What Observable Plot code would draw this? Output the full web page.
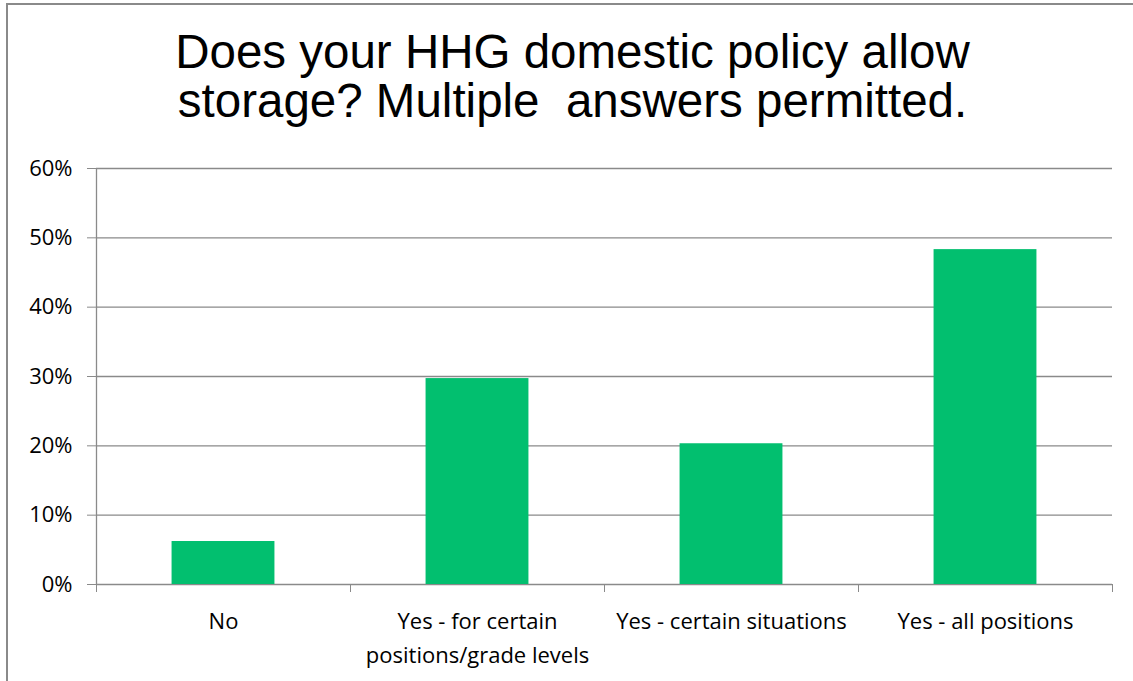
<!DOCTYPE html>
<html>
<head>
<meta charset="utf-8">
<script src="https://cdn.jsdelivr.net/npm/d3@7"></script>
<script src="https://cdn.jsdelivr.net/npm/@observablehq/plot@0.6"></script>
<style>
  html, body { margin: 0; padding: 0; background: #fff; }
  #wrap { position: relative; width: 1133px; height: 681px; overflow: hidden; background: #fff; }
  #frame { position: absolute; left: 6px; top: 3px; width: 1200px; height: 800px; border-left: 2px solid #8a8a8a; border-top: 2px solid #8a8a8a; }
  #title { position: absolute; left: 12px; top: 27px; width: 1121px; text-align: center; font-family: "Liberation Sans", Arial, sans-serif; font-size: 47.5px; line-height: 49px; color: #000; white-space: nowrap; }
  #chart { position: absolute; left: 0; top: 150px; }
  #chart svg { background: transparent !important; }
</style>
</head>
<body>
<div id="wrap">
  <div id="frame"></div>
  <div id="title">Does your HHG domestic policy allow<br>storage? Multiple&nbsp; answers permitted.</div>
  <div id="chart"></div>
</div>
<script>
const categories = ["No", "Yes - for certain\npositions/grade levels", "Yes - certain situations", "Yes - all positions"];
const values = [0.062, 0.297, 0.203, 0.483];
const yTicks = [0, 0.1, 0.2, 0.3, 0.4, 0.5, 0.6];

const data = categories.map((c, i) => ({cat: c, idx: i, value: values[i]}));
const halfBar = 0.2025;
const font = "'Open Sans', Lato, sans-serif";

const plot = Plot.plot({
  width: 1133,
  height: 531,
  marginTop: 18,
  marginBottom: 97,
  marginLeft: 96,
  marginRight: 21,
  style: {fontFamily: font, fontSize: "22px", color: "#000", background: "transparent"},
  x: {domain: [0, categories.length]},
  y: {domain: [0, 0.6]},
  marks: [
    Plot.ruleY(yTicks, {stroke: "#8a8a8a", strokeWidth: 1.3}),
    Plot.rectY(data, {x1: d => d.idx + 0.5 - halfBar, x2: d => d.idx + 0.5 + halfBar, y: "value", fill: "#02BF6F"}),
    Plot.ruleX([0], {y1: 0, y2: 0.6, stroke: "#8a8a8a", strokeWidth: 1.3}),
    Plot.axisY({ticks: yTicks, tickSize: 9, tickPadding: 15, tickFormat: d3.format(".0%"), stroke: "#8a8a8a", fill: "#000", label: null, fontSize: 22}),
    Plot.axisX({ticks: d3.range(categories.length + 1), tickSize: 8, tickFormat: () => "", stroke: "#8a8a8a", label: null}),
    Plot.text(data, {x: d => d.idx + 0.5, y: 0, text: "cat", dy: 20, lineHeight: 1.55, lineAnchor: "top", fill: "#000", fontSize: 22, textAnchor: "middle"})
  ]
});
document.getElementById("chart").appendChild(plot);
</script>
</body>
</html>
